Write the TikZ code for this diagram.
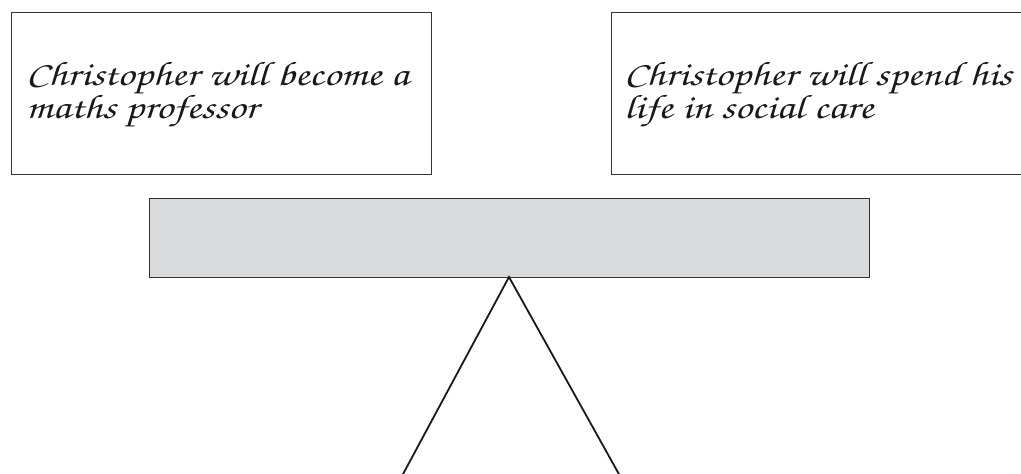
\documentclass[tikz,border=0pt]{standalone}
\usepackage{fontspec}
\setmainfont[FakeStretch=1.25]{texgyrechorus-mediumitalic.otf}
\definecolor{barfill}{HTML}{D9DADC}
\definecolor{edge}{HTML}{333333}
\begin{document}
\begin{tikzpicture}[x=1pt,y=-1pt,
  box/.style={draw=edge, line width=1.2pt, anchor=north west, inner sep=0pt},
  label/.style={anchor=base west, align=left, inner sep=0pt, font=\fontsize{34}{30}\selectfont, text=black!90},
  leg/.style={draw=black!90, line width=1.8pt}]
\useasboundingbox (0,0) rectangle (1021,474);
\clip (0,0) rectangle (1021,474);
\node[box, minimum width=420pt, minimum height=162pt] (lbox) at (10.5,11.5) {};
\node[box, minimum width=420pt, minimum height=162pt] (rbox) at (610.5,11.5) {};
\node[box, fill=barfill, minimum width=720pt, minimum height=79pt] (bar) at (149,198) {};
\node[label] (ltext) at (26,118) {Christopher will become a\\maths professor};
\node[label] (rtext) at (624,118) {Christopher will spend his\\life in social care};
\coordinate (apex) at (509,277);
\coordinate (bl) at (402,476);
\coordinate (br) at (620,476);
\draw[leg] (bl) -- (apex) -- (br);
\end{tikzpicture}
\end{document}
